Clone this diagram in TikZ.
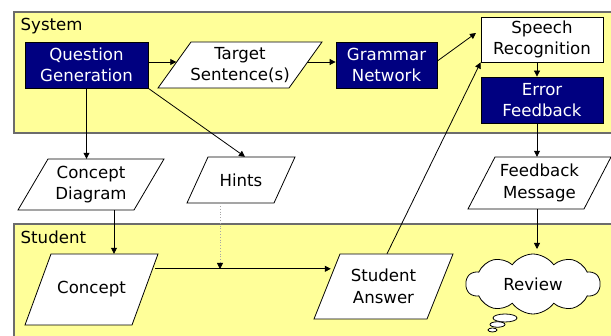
\documentclass[tikz,border=0pt]{standalone}
\usepackage{fontspec}
\setmainfont{DejaVu Sans}
\usetikzlibrary{arrows.meta,shapes.symbols,shapes.geometric,calc}
\definecolor{sysyellow}{HTML}{FFFF99}
\definecolor{navyblue}{HTML}{000080}
\newcommand\fsz{\fontsize{16.6}{21.5}\selectfont}
\tikzset{
  lane/.style={draw=gray!85!black, line width=1.2pt, fill=sysyellow},
  lanelabel/.style={anchor=base west, inner sep=0pt, font=\fsz},
  darkbox/.style={draw=black, line width=0.8pt, fill=navyblue, text=white, inner sep=0pt, align=center, font=\fsz},
  whitebox/.style={draw=black, line width=0.8pt, fill=white, inner sep=0pt, align=center, font=\fsz},
  ptext/.style={inner sep=0pt, align=center, font=\fsz},
  pshape/.style={draw=black, line width=0.8pt, fill=white},
  conn/.style={line width=0.8pt, -{Triangle[length=6pt,width=6pt]}},
  dotconn/.style={line width=0.8pt, draw=gray!70, dotted, -{Triangle[length=6pt,width=6pt,color=black]}},
  bubble/.style={ellipse, draw=black, line width=0.8pt, fill=white, inner sep=0pt},
}
% name, cx, cy, w, h, slant, text
\newcommand\para[7]{%
  \path[pshape] ({#2-#4/2+#6},{#3-#5/2}) -- ({#2+#4/2},{#3-#5/2}) -- ({#2+#4/2-#6},{#3+#5/2}) -- ({#2-#4/2},{#3+#5/2}) -- cycle;
  \node[ptext, minimum width=#4pt, minimum height=#5pt] (#1) at (#2,#3) {#7};
}
\begin{document}
\begin{tikzpicture}[x=1pt,y=-1pt]
\useasboundingbox (0,0) rectangle (611,336);
% lanes
\path[lane] (14,12) rectangle (616,133);
\path[lane] (14,224) rectangle (616,342);
\node[lanelabel] (syslbl) at (20.5,30.5) {System};
\node[lanelabel] (stulbl) at (20.5,243.5) {Student};
% system nodes
\node[darkbox, minimum width=123pt, minimum height=46pt] (qg) at (86.5,65) {Question\\Generation};
\para{tgt}{240}{65}{164}{46}{33}{Target\\Sentence(s)}
\node[darkbox, minimum width=101pt, minimum height=46pt] (gn) at (386.5,65) {Grammar\\Network};
\node[whitebox, minimum width=122pt, minimum height=45pt] (sr) at (542,39.5) {Speech\\Recognition};
\node[darkbox, minimum width=122pt, minimum height=46pt] (ef) at (542,100) {Error\\Feedback};
% middle
\para{cd}{91}{184.5}{146}{51}{30}{Concept\\Diagram}
\para{hints}{241}{180}{108}{46}{21}{Hints}
\para{fm}{539.5}{183}{143}{52}{27}{Feedback\\Message}
% student nodes
\para{con}{91.5}{289.5}{133}{71}{26}{Concept}
\para{sa}{383.5}{286.5}{139}{65}{26}{Student\\Answer}
\node[cloud, cloud puffs=10, cloud puff arc=110, aspect=2.3, draw=black, line width=0.8pt, fill=white, minimum width=134pt, minimum height=60pt, inner sep=0pt, font=\fsz] (rev) at (533,284) {Review};
\node[bubble, minimum width=24pt, minimum height=8pt] (b1) at (505,318) {};
\node[bubble, minimum width=15pt, minimum height=5.5pt] (b2) at (497.5,324.5) {};
\node[bubble, minimum width=9pt, minimum height=4pt] (b3) at (492.5,330) {};
% helper coordinates
\coordinate (vx) at (537,0);
\coordinate (gnout) at (476,33);
\coordinate (revin) at (537,249);
\coordinate (cdx) at (114,0);
\coordinate (j) at (220,269);
% connectors
\draw[conn] ($(qg.east)+(0,-3)$) -- ($(tgt.west)+(18.5,-3)$);
\draw[conn] ($(tgt.east)+(-15,-3)$) -- ($(gn.west)+(0,-3)$);
\draw[conn] ($(gn.east)+(0,-4)$) -- (gnout);
\draw[conn] (vx |- sr.south) -- (vx |- ef.north);
\draw[conn] (vx |- ef.south) -- (vx |- fm.north);
\draw[conn] (vx |- fm.south) -- (revin);
\draw[conn] (qg.south) -- (qg.south |- cd.north);
\draw[conn] (qg.south east) -- ($(hints.north)+(4,0)$);
\draw[conn] (cdx |- cd.south) -- (cdx |- con.north);
\draw[dotconn] (j |- hints.south) -- (j);
\draw[conn] ($(con.north east)+(-3,15)$) -- ($(sa.north west)+(17,15)$);
\draw[conn] ($(sa.north)+(3.5,0)$) -- (sr.south west);
\end{tikzpicture}
\end{document}
